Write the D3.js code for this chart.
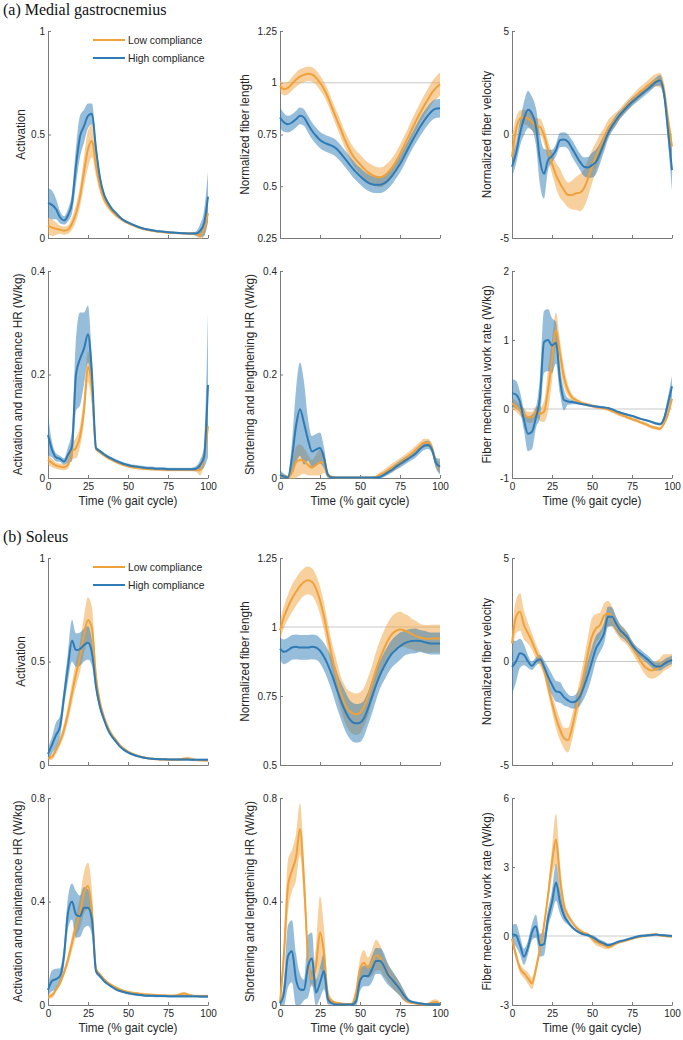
<!DOCTYPE html>
<html>
<head>
<meta charset="utf-8">
<script src="https://cdn.jsdelivr.net/npm/d3@7"></script>
<style>
  body { margin: 0; background: #fff; }
  svg { display: block; }
</style>
</head>
<body>
<svg id="chart" width="683" height="1040"></svg>
<script>
// x grid shared by every curve (% gait cycle)
const pct = [0,2.5,5,7.5,10,12.5,15,17.5,20,22.5,
  25,27.5,30,32.5,35,37.5,40,42.5,45,47.5,
  50,52.5,55,57.5,60,62.5,65,67.5,70,72.5,
  75,77.5,80,82.5,85,87.5,90,92.5,95,97.5,100];

const xTicks = [0, 25, 50, 75, 100];
const seriesNames = ["Low compliance", "High compliance"];

// ---- (a) medial gastrocnemius ----
const mgActLow = [0.06,0.05,0.045,0.04,0.035,0.04,0.07,0.12,0.20,0.32,
  0.43,0.47,0.35,0.25,0.19,0.155,0.13,0.11,0.095,0.082,
  0.072,0.063,0.055,0.049,0.043,0.039,0.035,0.032,0.030,0.028,
  0.026,0.025,0.024,0.023,0.022,0.021,0.020,0.020,0.012,0.04,0.12];
const mgActLowSd = [0.04,0.04,0.03,0.02,0.02,0.02,0.03,0.04,0.05,0.07,
  0.09,0.08,0.05,0.03,0.02,0.015,0.01,0.008,0.006,0.006,
  0.005,0.005,0.005,0.005,0.005,0.005,0.005,0.005,0.005,0.005,
  0.005,0.005,0.005,0.005,0.005,0.005,0.006,0.01,0.02,0.03,0.04];
const mgActHigh = [0.17,0.16,0.14,0.10,0.085,0.11,0.17,0.35,0.49,0.54,
  0.59,0.60,0.43,0.29,0.21,0.17,0.14,0.12,0.10,0.085,
  0.075,0.066,0.058,0.051,0.045,0.041,0.037,0.034,0.032,0.030,
  0.028,0.026,0.025,0.024,0.023,0.022,0.022,0.022,0.035,0.07,0.20];
const mgActHighSd = [0.07,0.07,0.05,0.03,0.02,0.03,0.05,0.09,0.10,0.08,
  0.06,0.05,0.04,0.02,0.015,0.01,0.01,0.008,0.006,0.006,
  0.005,0.005,0.005,0.005,0.005,0.005,0.005,0.005,0.005,0.005,
  0.005,0.005,0.005,0.005,0.005,0.005,0.006,0.01,0.03,0.06,0.12];

const mgLenLow = [0.985,0.969,0.975,0.995,1.015,1.030,1.038,1.044,1.040,1.025,
  1.000,0.970,0.930,0.880,0.832,0.785,0.735,0.693,0.655,0.628,
  0.607,0.585,0.567,0.555,0.546,0.543,0.550,0.567,0.590,0.620,
  0.655,0.695,0.735,0.776,0.816,0.853,0.888,0.920,0.952,0.975,0.993];
const mgLenLowSd = [0.03,0.03,0.03,0.032,0.035,0.035,0.035,0.035,0.035,0.035,
  0.035,0.035,0.035,0.035,0.037,0.04,0.04,0.042,0.044,0.045,
  0.046,0.047,0.048,0.048,0.048,0.048,0.047,0.046,0.045,0.045,
  0.045,0.045,0.045,0.046,0.047,0.048,0.05,0.052,0.054,0.055,0.056];
const mgLenHigh = [0.832,0.808,0.800,0.808,0.824,0.840,0.832,0.800,0.768,0.744,
  0.723,0.711,0.703,0.695,0.683,0.663,0.639,0.615,0.590,0.568,
  0.550,0.532,0.518,0.510,0.507,0.507,0.514,0.528,0.550,0.577,
  0.607,0.642,0.680,0.717,0.752,0.786,0.816,0.842,0.864,0.875,0.877];
const mgLenHighSd = [0.05,0.045,0.04,0.04,0.04,0.04,0.04,0.04,0.04,0.04,
  0.04,0.04,0.04,0.04,0.04,0.04,0.04,0.04,0.04,0.04,
  0.04,0.04,0.04,0.04,0.04,0.04,0.04,0.04,0.04,0.04,
  0.04,0.04,0.04,0.04,0.042,0.044,0.045,0.045,0.045,0.045,0.045];

const mgVelLow = [-1.08,0.21,0.77,0.85,0.77,0.61,0.40,0.37,-0.03,-0.75,
  -1.40,-1.96,-2.36,-2.68,-2.92,-2.92,-2.84,-2.81,-2.60,-2.12,
  -1.56,-1.08,-0.59,-0.19,0.29,0.55,0.77,1.00,1.25,1.45,
  1.65,1.85,2.05,2.20,2.38,2.50,2.62,2.62,2.13,0.69,-0.59];
const mgVelLowSd = [1.0,0.6,0.4,0.35,0.35,0.4,0.4,0.4,0.4,0.45,
  0.5,0.6,0.7,0.6,0.6,0.7,0.8,0.9,0.9,0.9,
  0.8,0.7,0.6,0.5,0.4,0.35,0.3,0.25,0.25,0.25,
  0.25,0.25,0.25,0.25,0.25,0.3,0.3,0.35,0.4,0.45,0.5];
const mgVelHigh = [-1.56,-0.91,0.05,0.77,1.20,1.01,0.37,-1.24,-1.90,-1.24,
  -1.04,-0.75,-0.27,-0.24,-0.35,-0.67,-1.00,-1.32,-1.56,-1.59,
  -1.48,-1.32,-0.91,-0.43,0.05,0.40,0.69,0.95,1.17,1.38,
  1.57,1.73,1.89,2.05,2.20,2.38,2.54,2.62,1.97,0.21,-1.72];
const mgVelHighSd = [0.5,0.5,0.6,0.8,0.9,0.8,0.9,1.2,1.2,0.5,
  0.3,0.3,0.35,0.35,0.35,0.4,0.4,0.4,0.45,0.5,
  0.6,0.6,0.5,0.4,0.3,0.25,0.25,0.2,0.2,0.2,
  0.2,0.2,0.2,0.2,0.2,0.2,0.2,0.25,0.3,0.6,1.0];

const mgAmhLow = [0.035,0.029,0.024,0.022,0.021,0.026,0.051,0.058,0.080,0.132,
  0.215,0.17,0.057,0.050,0.044,0.039,0.035,0.031,0.028,0.025,
  0.023,0.021,0.020,0.019,0.018,0.018,0.017,0.017,0.017,0.016,
  0.016,0.016,0.016,0.016,0.016,0.016,0.016,0.016,0.015,0.04,0.10];
const mgAmhLowSd = [0.01,0.008,0.006,0.006,0.006,0.008,0.015,0.02,0.02,0.025,
  0.03,0.03,0.005,0.003,0.003,0.003,0.003,0.003,0.003,0.003,
  0.003,0.003,0.003,0.003,0.003,0.003,0.003,0.003,0.003,0.003,
  0.003,0.003,0.003,0.003,0.003,0.003,0.003,0.004,0.01,0.015,0.02];
const mgAmhHigh = [0.083,0.055,0.040,0.037,0.032,0.045,0.062,0.20,0.23,0.25,
  0.278,0.20,0.058,0.052,0.046,0.041,0.037,0.033,0.030,0.027,
  0.025,0.023,0.022,0.021,0.020,0.019,0.019,0.018,0.018,0.018,
  0.017,0.017,0.017,0.017,0.017,0.017,0.017,0.018,0.025,0.04,0.18];
const mgAmhHighSd = [0.04,0.015,0.008,0.006,0.006,0.015,0.03,0.07,0.09,0.07,
  0.055,0.03,0.005,0.003,0.003,0.003,0.003,0.003,0.003,0.003,
  0.003,0.003,0.003,0.003,0.003,0.003,0.003,0.003,0.003,0.003,
  0.003,0.003,0.003,0.003,0.003,0.003,0.003,0.005,0.01,0.02,0.14];

const mgSlhLow = [0.005,0.003,0.002,0.010,0.030,0.035,0.033,0.025,0.020,0.025,
  0.030,0.030,0.005,0.002,0.001,0.001,0.001,0.001,0.001,0.001,
  0.001,0.001,0.001,0.001,0.002,0.006,0.010,0.015,0.020,0.025,
  0.030,0.036,0.042,0.048,0.055,0.062,0.068,0.068,0.058,0.030,0.020];
const mgSlhLowSd = [0.005,0.004,0.004,0.02,0.03,0.03,0.025,0.02,0.015,0.02,
  0.025,0.02,0.005,0.002,0.001,0.001,0.001,0.001,0.001,0.001,
  0.001,0.001,0.001,0.001,0.003,0.005,0.006,0.007,0.008,0.008,
  0.008,0.008,0.008,0.008,0.008,0.008,0.008,0.008,0.008,0.01,0.01];
const mgSlhHigh = [0.006,0.003,0.001,0.040,0.100,0.133,0.106,0.074,0.051,0.055,
  0.058,0.039,0.006,0.001,0.001,0.001,0.001,0.001,0.001,0.001,
  0.001,0.001,0.001,0.001,0.001,0.002,0.006,0.011,0.016,0.022,
  0.027,0.032,0.037,0.042,0.048,0.056,0.062,0.064,0.055,0.029,0.022];
const mgSlhHighSd = [0.01,0.005,0.003,0.03,0.07,0.09,0.08,0.04,0.03,0.03,
  0.03,0.02,0.005,0.001,0.001,0.001,0.001,0.001,0.001,0.001,
  0.001,0.001,0.001,0.001,0.002,0.003,0.004,0.005,0.006,0.006,
  0.007,0.007,0.007,0.007,0.008,0.008,0.008,0.008,0.008,0.01,0.015];

const mgWorkLow = [0.08,0.04,-0.02,-0.07,-0.12,-0.12,-0.04,-0.07,-0.04,0.27,
  0.70,1.15,0.80,0.46,0.27,0.17,0.13,0.10,0.077,0.063,
  0.045,0.030,0.020,0.010,-0.005,-0.030,-0.055,-0.080,-0.100,-0.125,
  -0.145,-0.165,-0.190,-0.210,-0.235,-0.260,-0.275,-0.285,-0.210,-0.070,0.15];
const mgWorkLowSd = [0.08,0.08,0.08,0.08,0.08,0.08,0.08,0.1,0.15,0.3,
  0.3,0.25,0.2,0.15,0.08,0.05,0.03,0.025,0.025,0.025,
  0.025,0.025,0.025,0.025,0.025,0.025,0.025,0.025,0.025,0.025,
  0.025,0.025,0.025,0.025,0.025,0.025,0.025,0.025,0.03,0.04,0.05];
const mgWorkHigh = [0.23,0.21,0.10,-0.16,-0.36,-0.33,-0.12,0.17,0.97,1.00,
  0.92,0.96,0.42,0.13,0.11,0.10,0.09,0.075,0.065,0.055,
  0.045,0.037,0.030,0.022,0.015,-0.005,-0.030,-0.050,-0.070,-0.085,
  -0.100,-0.120,-0.140,-0.155,-0.170,-0.190,-0.210,-0.220,-0.140,0.08,0.33];
const mgWorkHighSd = [0.2,0.2,0.15,0.15,0.25,0.25,0.15,0.3,0.45,0.45,
  0.4,0.3,0.2,0.15,0.05,0.03,0.02,0.015,0.015,0.015,
  0.015,0.015,0.015,0.015,0.015,0.015,0.015,0.015,0.015,0.015,
  0.015,0.015,0.015,0.015,0.015,0.015,0.02,0.02,0.05,0.1,0.15];

// ---- (b) soleus ----
const solActLow = [0.032,0.040,0.073,0.113,0.170,0.250,0.347,0.44,0.52,0.63,
  0.70,0.66,0.42,0.30,0.23,0.18,0.145,0.12,0.095,0.078,
  0.065,0.055,0.047,0.041,0.036,0.033,0.030,0.028,0.027,0.026,
  0.025,0.025,0.025,0.027,0.030,0.032,0.028,0.024,0.023,0.022,0.022];
const solActLowSd = [0.01,0.015,0.02,0.02,0.03,0.04,0.05,0.06,0.07,0.09,
  0.11,0.10,0.06,0.03,0.02,0.015,0.01,0.008,0.006,0.005,
  0.005,0.005,0.005,0.005,0.005,0.005,0.005,0.005,0.005,0.005,
  0.005,0.005,0.005,0.006,0.008,0.008,0.006,0.005,0.005,0.005,0.005];
const solActHigh = [0.053,0.097,0.145,0.185,0.33,0.476,0.60,0.555,0.56,0.58,
  0.59,0.54,0.38,0.28,0.22,0.17,0.137,0.113,0.089,0.073,
  0.061,0.052,0.045,0.040,0.035,0.032,0.030,0.029,0.028,0.028,
  0.027,0.027,0.026,0.026,0.026,0.026,0.025,0.025,0.025,0.025,0.025];
const solActHighSd = [0.03,0.04,0.06,0.05,0.05,0.07,0.1,0.08,0.08,0.08,
  0.08,0.06,0.03,0.015,0.01,0.008,0.006,0.005,0.005,0.005,
  0.005,0.005,0.005,0.005,0.005,0.005,0.005,0.005,0.005,0.005,
  0.005,0.005,0.005,0.005,0.005,0.005,0.005,0.005,0.005,0.005,0.005];

const solLenLow = [0.988,1.037,1.073,1.103,1.127,1.148,1.163,1.169,1.163,1.139,
  1.097,1.037,0.964,0.892,0.832,0.771,0.729,0.701,0.689,0.684,
  0.689,0.711,0.747,0.795,0.844,0.886,0.922,0.952,0.974,0.986,
  0.991,0.988,0.982,0.974,0.967,0.962,0.958,0.957,0.958,0.958,0.958];
const solLenLowSd = [0.035,0.04,0.045,0.05,0.05,0.05,0.05,0.05,0.05,0.05,
  0.05,0.05,0.05,0.05,0.055,0.06,0.065,0.07,0.075,0.075,
  0.075,0.07,0.07,0.065,0.065,0.065,0.065,0.065,0.065,0.065,
  0.065,0.06,0.06,0.055,0.055,0.05,0.05,0.05,0.05,0.05,0.05];
const solLenHigh = [0.922,0.910,0.916,0.926,0.928,0.926,0.926,0.926,0.928,0.926,
  0.914,0.892,0.862,0.826,0.783,0.741,0.705,0.675,0.657,0.651,
  0.653,0.669,0.705,0.747,0.789,0.826,0.856,0.882,0.904,0.918,
  0.930,0.940,0.946,0.949,0.950,0.949,0.946,0.942,0.940,0.940,0.940];
const solLenHighSd = [0.04,0.045,0.045,0.045,0.045,0.045,0.045,0.045,0.045,0.045,
  0.045,0.05,0.055,0.06,0.065,0.065,0.07,0.07,0.07,0.07,
  0.07,0.065,0.06,0.06,0.055,0.05,0.05,0.05,0.05,0.05,
  0.05,0.045,0.045,0.045,0.045,0.04,0.04,0.04,0.04,0.04,0.04];

const solVelLow = [0.88,2.16,2.40,1.76,1.36,0.96,0.48,0.08,-0.40,-1.20,
  -2.00,-2.72,-3.29,-3.70,-3.80,-3.21,-2.32,-1.44,-0.56,0.40,
  1.20,1.60,1.76,2.20,2.32,2.16,1.76,1.44,1.28,1.04,
  0.72,0.40,0.08,-0.21,-0.37,-0.43,-0.37,-0.24,-0.05,0.00,0.08];
const solVelLowSd = [0.6,0.8,0.9,0.7,0.5,0.4,0.35,0.3,0.3,0.35,
  0.4,0.5,0.5,0.5,0.6,0.6,0.6,0.6,0.7,0.8,
  0.9,0.7,0.6,0.6,0.6,0.5,0.4,0.35,0.35,0.3,
  0.3,0.3,0.3,0.35,0.4,0.4,0.4,0.4,0.4,0.35,0.3];
const solVelHigh = [-0.27,0.00,0.40,0.32,0.00,-0.21,0.00,0.11,-0.24,-0.72,
  -1.12,-1.44,-1.49,-1.72,-1.88,-1.97,-1.92,-1.68,-1.20,-0.64,
  0.00,0.64,0.96,1.36,2.16,2.16,1.84,1.52,1.33,1.12,
  0.80,0.56,0.40,0.24,0.08,-0.11,-0.24,-0.24,-0.11,0.00,0.08];
const solVelHighSd = [1.3,1.0,0.7,0.5,0.3,0.2,0.2,0.2,0.3,0.45,
  0.5,0.5,0.5,0.4,0.3,0.3,0.35,0.45,0.6,0.7,
  0.7,0.6,0.5,0.5,0.5,0.45,0.35,0.3,0.25,0.25,
  0.2,0.2,0.2,0.2,0.2,0.2,0.2,0.2,0.2,0.2,0.2];

const solAmhLow = [0.032,0.037,0.060,0.086,0.125,0.176,0.240,0.305,0.356,0.433,
  0.460,0.36,0.140,0.118,0.100,0.086,0.076,0.067,0.060,0.054,
  0.050,0.047,0.045,0.043,0.041,0.040,0.039,0.038,0.037,0.037,
  0.036,0.036,0.037,0.041,0.044,0.040,0.036,0.035,0.035,0.035,0.035];
const solAmhLowSd = [0.01,0.01,0.01,0.012,0.015,0.02,0.03,0.04,0.06,0.08,
  0.09,0.08,0.01,0.006,0.005,0.005,0.005,0.005,0.005,0.005,
  0.005,0.005,0.005,0.005,0.005,0.005,0.005,0.005,0.005,0.005,
  0.005,0.005,0.005,0.006,0.006,0.005,0.005,0.005,0.005,0.005,0.005];
const solAmhHigh = [0.058,0.093,0.100,0.112,0.190,0.356,0.400,0.350,0.343,0.376,
  0.376,0.33,0.131,0.112,0.093,0.080,0.070,0.060,0.054,0.050,
  0.046,0.043,0.041,0.039,0.037,0.036,0.036,0.035,0.035,0.035,
  0.034,0.034,0.034,0.034,0.034,0.034,0.034,0.034,0.033,0.033,0.033];
const solAmhHighSd = [0.02,0.04,0.04,0.03,0.04,0.06,0.07,0.09,0.08,0.08,
  0.07,0.06,0.01,0.008,0.005,0.005,0.005,0.005,0.005,0.005,
  0.005,0.005,0.005,0.005,0.005,0.005,0.005,0.005,0.005,0.005,
  0.005,0.005,0.005,0.005,0.005,0.005,0.005,0.005,0.005,0.005,0.005];

const solSlhLow = [0.009,0.20,0.46,0.52,0.57,0.68,0.48,0.19,0.10,0.15,
  0.28,0.20,0.035,0.015,0.009,0.006,0.004,0.003,0.005,0.048,
  0.138,0.163,0.144,0.163,0.192,0.183,0.150,0.125,0.099,0.080,
  0.060,0.035,0.015,0.009,0.006,0.004,0.003,0.004,0.009,0.012,0.005];
const solSlhLowSd = [0.01,0.06,0.1,0.08,0.09,0.1,0.08,0.04,0.03,0.08,
  0.14,0.1,0.03,0.01,0.005,0.005,0.005,0.005,0.005,0.02,
  0.04,0.05,0.04,0.05,0.06,0.05,0.04,0.035,0.03,0.03,
  0.025,0.02,0.01,0.005,0.005,0.005,0.005,0.005,0.01,0.01,0.005];
const solSlhHigh = [0.006,0.048,0.189,0.208,0.099,0.060,0.058,0.150,0.18,0.048,
  0.086,0.131,0.022,0.006,0.002,0.002,0.002,0.002,0.002,0.015,
  0.093,0.112,0.112,0.138,0.170,0.170,0.150,0.118,0.099,0.080,
  0.060,0.037,0.019,0.012,0.009,0.006,0.004,0.003,0.003,0.003,0.003];
const solSlhHighSd = [0.005,0.05,0.12,0.12,0.1,0.06,0.04,0.12,0.1,0.05,
  0.06,0.07,0.02,0.005,0.003,0.003,0.003,0.003,0.003,0.02,
  0.04,0.04,0.04,0.05,0.05,0.05,0.05,0.04,0.035,0.03,
  0.025,0.02,0.01,0.005,0.005,0.005,0.005,0.005,0.005,0.005,0.005];

const solWorkLow = [-0.12,-0.84,-1.41,-1.63,-1.84,-2.06,-1.41,-0.55,0.46,1.76,
  3.20,4.20,2.48,1.33,0.89,0.61,0.39,0.24,0.14,0.07,
  -0.12,-0.26,-0.33,-0.40,-0.48,-0.43,-0.33,-0.26,-0.22,-0.17,
  -0.12,-0.07,-0.03,0.00,0.03,0.06,0.06,0.04,0.01,-0.01,-0.01];
const solWorkLowSd = [0.15,0.2,0.2,0.2,0.25,0.25,0.25,0.2,0.2,0.3,
  0.6,1.1,0.7,0.3,0.15,0.1,0.08,0.06,0.06,0.06,
  0.1,0.15,0.15,0.15,0.1,0.08,0.06,0.05,0.05,0.05,
  0.05,0.05,0.05,0.05,0.05,0.05,0.05,0.05,0.05,0.05,0.05];
const solWorkHigh = [0.06,0.03,-0.40,-0.90,-0.50,0.17,0.42,-0.40,-0.35,0.75,
  1.47,2.33,1.47,0.89,0.61,0.39,0.24,0.14,0.07,0.03,
  -0.04,-0.14,-0.26,-0.33,-0.40,-0.36,-0.29,-0.23,-0.19,-0.14,
  -0.09,-0.04,0.00,0.01,0.03,0.04,0.06,0.04,0.03,0.01,0.00];
const solWorkHighSd = [0.4,0.5,0.4,0.35,0.3,0.35,0.5,0.5,0.5,0.4,
  0.5,0.8,0.5,0.25,0.12,0.08,0.06,0.06,0.06,0.06,
  0.08,0.1,0.1,0.1,0.08,0.06,0.05,0.05,0.05,0.05,
  0.05,0.05,0.05,0.05,0.05,0.05,0.05,0.05,0.05,0.05,0.05];

// panel list (row, col in the 4x3 grid)
const panels = [
  {row:0, col:0, ylabel:"Activation", domain:[0,1], ticks:[0,0.5,1], ref:null, legend:true,
   low:mgActLow, lowSd:mgActLowSd, high:mgActHigh, highSd:mgActHighSd},
  {row:0, col:1, ylabel:"Normalized fiber length", domain:[0.25,1.25], ticks:[0.25,0.5,0.75,1,1.25], ref:1,
   low:mgLenLow, lowSd:mgLenLowSd, high:mgLenHigh, highSd:mgLenHighSd},
  {row:0, col:2, ylabel:"Normalized fiber velocity", domain:[-5,5], ticks:[-5,0,5], ref:0,
   low:mgVelLow, lowSd:mgVelLowSd, high:mgVelHigh, highSd:mgVelHighSd},
  {row:1, col:0, ylabel:"Activation and maintenance HR (W/kg)", domain:[0,0.4], ticks:[0,0.2,0.4], ref:null, xlab:true,
   low:mgAmhLow, lowSd:mgAmhLowSd, high:mgAmhHigh, highSd:mgAmhHighSd},
  {row:1, col:1, ylabel:"Shortening and lengthening HR (W/kg)", domain:[0,0.4], ticks:[0,0.2,0.4], ref:null, xlab:true,
   low:mgSlhLow, lowSd:mgSlhLowSd, high:mgSlhHigh, highSd:mgSlhHighSd},
  {row:1, col:2, ylabel:"Fiber mechanical work rate (W/kg)", domain:[-1,2], ticks:[-1,0,1,2], ref:0, xlab:true,
   low:mgWorkLow, lowSd:mgWorkLowSd, high:mgWorkHigh, highSd:mgWorkHighSd},
  {row:2, col:0, ylabel:"Activation", domain:[0,1], ticks:[0,0.5,1], ref:null, legend:true,
   low:solActLow, lowSd:solActLowSd, high:solActHigh, highSd:solActHighSd},
  {row:2, col:1, ylabel:"Normalized fiber length", domain:[0.5,1.25], ticks:[0.5,0.75,1,1.25], ref:1,
   low:solLenLow, lowSd:solLenLowSd, high:solLenHigh, highSd:solLenHighSd},
  {row:2, col:2, ylabel:"Normalized fiber velocity", domain:[-5,5], ticks:[-5,0,5], ref:0,
   low:solVelLow, lowSd:solVelLowSd, high:solVelHigh, highSd:solVelHighSd},
  {row:3, col:0, ylabel:"Activation and maintenance HR (W/kg)", domain:[0,0.8], ticks:[0,0.4,0.8], ref:null, xlab:true,
   low:solAmhLow, lowSd:solAmhLowSd, high:solAmhHigh, highSd:solAmhHighSd},
  {row:3, col:1, ylabel:"Shortening and lengthening HR (W/kg)", domain:[0,0.8], ticks:[0,0.4,0.8], ref:null, xlab:true,
   low:solSlhLow, lowSd:solSlhLowSd, high:solSlhHigh, highSd:solSlhHighSd},
  {row:3, col:2, ylabel:"Fiber mechanical work rate (W/kg)", domain:[-3,6], ticks:[-3,0,3,6], ref:0, xlab:true,
   low:solWorkLow, lowSd:solWorkLowSd, high:solWorkHigh, highSd:solWorkHighSd}
];

const titles = [{row:0, text:"(a) Medial gastrocnemius"}, {row:2, text:"(b) Soleus"}];

// ---- layout / style ----
const colX = [48, 280, 512];
const rowY = [31, 271, 558, 798];
const W = 160, H = 207;
const cLow = "#EFA13B", cHigh = "#2E7BB6";
const axisColor = "#7a7a7a", textColor = "#262626";
const sans = "'Liberation Sans', Arial, Helvetica, sans-serif";
const serif = "'Liberation Serif', 'Times New Roman', serif";

const svg = d3.select("#chart");
const x = d3.scaleLinear().domain([0, 100]).range([0, W]);

// squeeze text a bit, the figure uses a narrow Helvetica
function squeeze(sel, k) {
  sel.each(function () {
    const len = this.getComputedTextLength();
    d3.select(this).attr("textLength", len * k).attr("lengthAdjust", "spacingAndGlyphs");
  });
}

panels.forEach((p, n) => {
  [p.low, p.lowSd, p.high, p.highSd].forEach(a => {
    if (a.length !== pct.length) throw new Error(p.ylabel + " panel " + n + " has " + a.length + " values");
  });

  const g = svg.append("g").attr("transform", `translate(${colX[p.col]},${rowY[p.row]})`);
  const y = d3.scaleLinear().domain(p.domain).range([H, 0]);

  // axes (under the data, like matlab)
  const ya = g.append("g")
    .attr("font-family", sans).attr("font-size", 10.5)
    .call(d3.axisLeft(y).tickValues(p.ticks).tickSizeInner(-3).tickSizeOuter(0).tickPadding(3).tickFormat(d => String(d)));
  const xa = g.append("g").attr("transform", `translate(0,${H})`)
    .attr("font-family", sans).attr("font-size", 10.5)
    .call(d3.axisBottom(x).tickValues(xTicks).tickSizeInner(-3).tickSizeOuter(0).tickPadding(5)
      .tickFormat(d => p.xlab ? String(d) : ""));
  [ya, xa].forEach(a => {
    a.select(".domain").attr("stroke", axisColor);
    a.selectAll(".tick line").attr("stroke", axisColor);
    a.selectAll(".tick text").attr("fill", textColor);
  });

  // y label just left of the tick labels
  let tickLeft = 0;
  ya.selectAll(".tick text").each(function () { tickLeft = Math.min(tickLeft, -this.getComputedTextLength() - 3); });
  const desc = /[gpqyj(]/.test(p.ylabel) ? 2.5 : 0;
  const yl = g.append("text")
    .attr("transform", `translate(${tickLeft - 6.5 - desc},${H / 2}) rotate(-90)`)
    .attr("text-anchor", "middle")
    .attr("font-family", sans).attr("font-size", 13).attr("fill", textColor)
    .text(p.ylabel);
  squeeze(yl, 0.9);

  if (p.xlab) {
    const xl = g.append("text")
      .attr("x", W / 2).attr("y", H + 27)
      .attr("text-anchor", "middle")
      .attr("font-family", sans).attr("font-size", 13).attr("fill", textColor)
      .text("Time (% gait cycle)");
    squeeze(xl, 0.9);
  }

  // data, clipped to the plot box
  const clipId = "clip" + n;
  g.append("clipPath").attr("id", clipId)
    .append("rect").attr("x", -1).attr("y", -2).attr("width", W + 2).attr("height", H + 3);
  const plot = g.append("g").attr("clip-path", `url(#${clipId})`);

  if (p.ref !== null) {
    plot.append("line")
      .attr("x1", 0).attr("x2", W).attr("y1", y(p.ref)).attr("y2", y(p.ref))
      .attr("stroke", "#c9c9c9").attr("stroke-width", 1);
  }

  const band = (m, s) => d3.area()
    .x((d, i) => x(pct[i]))
    .y0((d, i) => y(m[i] - s[i]))
    .y1((d, i) => y(m[i] + s[i]))
    .curve(d3.curveMonotoneX)(m);
  const line = m => d3.line()
    .x((d, i) => x(pct[i]))
    .y(d => y(d))
    .curve(d3.curveMonotoneX)(m);

  plot.append("path").attr("d", band(p.low, p.lowSd)).attr("fill", cLow).attr("fill-opacity", 0.5);
  plot.append("path").attr("d", band(p.high, p.highSd)).attr("fill", cHigh).attr("fill-opacity", 0.5);
  plot.append("path").attr("d", line(p.low)).attr("fill", "none").attr("stroke", cLow).attr("stroke-width", 2);
  plot.append("path").attr("d", line(p.high)).attr("fill", "none").attr("stroke", cHigh).attr("stroke-width", 2);

  if (p.legend) {
    const lg = g.append("g").attr("transform", "translate(45,9)");
    seriesNames.forEach((name, k) => {
      lg.append("line").attr("x1", 0).attr("x2", 32).attr("y1", k * 18).attr("y2", k * 18)
        .attr("stroke", k === 0 ? cLow : cHigh).attr("stroke-width", 2);
      const t = lg.append("text").attr("x", 35).attr("y", k * 18 + 4)
        .attr("font-family", sans).attr("font-size", 11.5).attr("fill", textColor)
        .text(name);
      squeeze(t, 0.9);
    });
  }
});

titles.forEach(t => {
  svg.append("text")
    .attr("x", 3).attr("y", rowY[t.row] - 16)
    .attr("font-family", serif).attr("font-size", 16).attr("fill", "#111")
    .text(t.text);
});
</script>
</body>
</html>
